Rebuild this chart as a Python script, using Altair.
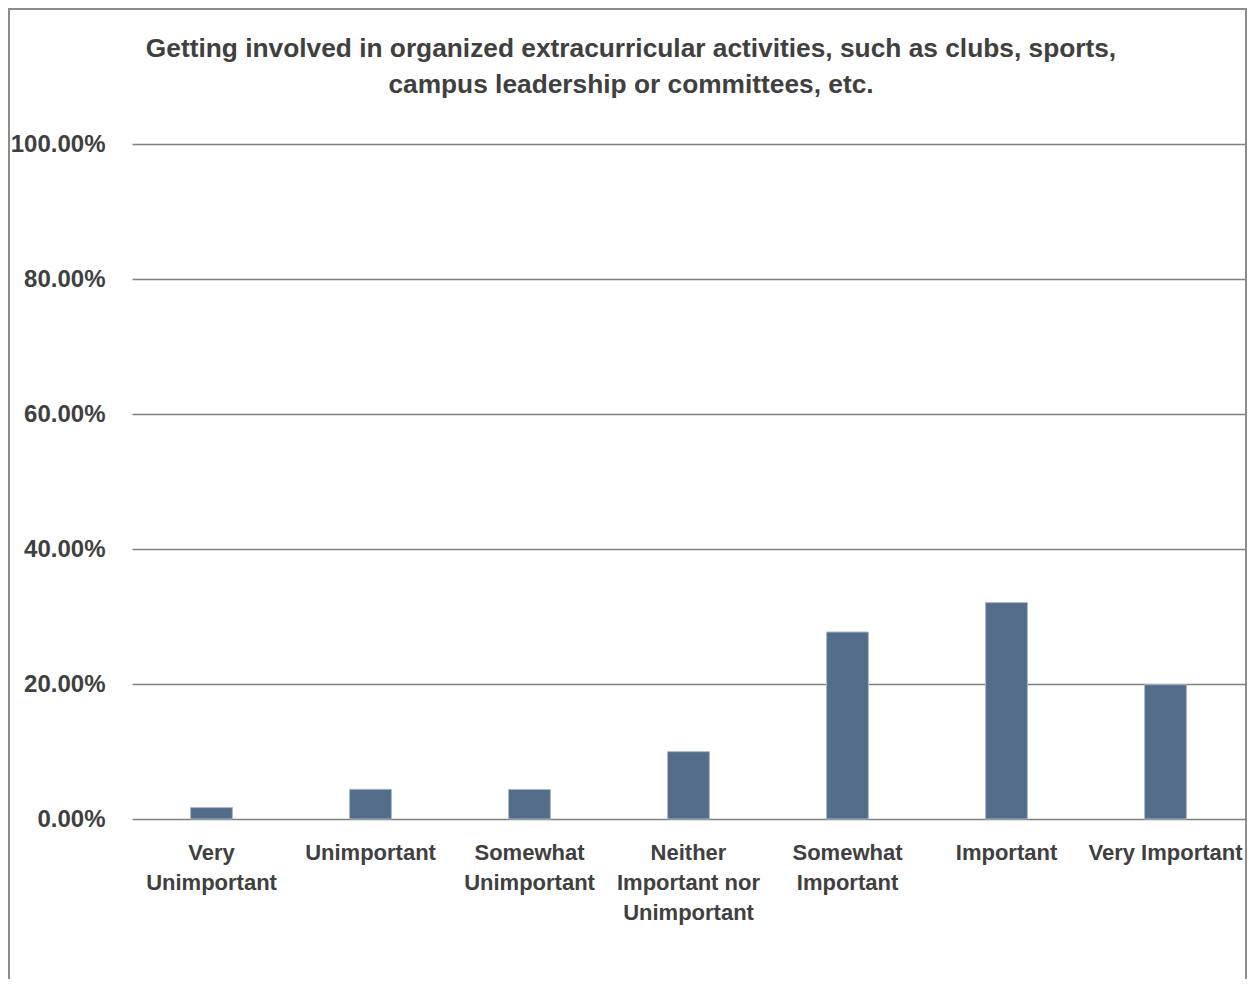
import altair as alt
import pandas as pd

categories = ["Very Unimportant", "Unimportant", "Somewhat Unimportant",
              "Neither Important nor Unimportant", "Somewhat Important",
              "Important", "Very Important"]
label_lines = [["Very", "Unimportant"], ["Unimportant"], ["Somewhat", "Unimportant"],
               ["Neither", "Important nor", "Unimportant"], ["Somewhat", "Important"],
               ["Important"], ["Very Important"]]
values = [0.0169, 0.0440, 0.0437, 0.0998, 0.2770, 0.3206, 0.1990]
y_ticks = [0, 0.2, 0.4, 0.6, 0.8, 1.0]
title_lines = ["Getting involved in organized extracurricular activities, such as clubs, sports,",
               "campus leadership or committees, etc."]

df = pd.DataFrame({"category": categories, "value": values})

label_expr = ""
for c, lines in zip(categories, label_lines):
    arr = "[" + ",".join("'" + l + "'" for l in lines) + "]"
    label_expr += f"datum.value == '{c}' ? {arr} : "
label_expr += "datum.label"

FONT = "Liberation Sans, Arial, sans-serif"
TXT = "#404040"
W, H = 1113, 675

bars = alt.Chart(df).mark_bar(color="#536c8a", stroke="#a9b8c9", strokeWidth=1).encode(
    x=alt.X("category:N", sort=categories,
            scale=alt.Scale(paddingInner=0.737, paddingOuter=0.3685),
            axis=alt.Axis(title=None, labelAngle=0, labelExpr=label_expr,
                          labelFont=FONT, labelFontSize=22, labelFontWeight="bold",
                          labelColor=TXT, labelLineHeight=30, labelPadding=23,
                          labelBaseline="top", ticks=False, domain=False, grid=False,
                          labelLimit=300)),
    y=alt.Y("value:Q", scale=alt.Scale(domain=[0, 1]),
            axis=alt.Axis(title=None, values=y_ticks, format=".2%",
                          labelFont=FONT, labelFontSize=24, labelFontWeight="bold",
                          labelColor=TXT, labelPadding=27, ticks=False, domain=False,
                          grid=True, gridColor="#808080", gridWidth=1.6)),
)

dummy = pd.DataFrame({"a": [0]})
frame = alt.Chart(dummy).mark_rect(
    fill=None, stroke="#8c8c8c", strokeWidth=2).encode(
    x=alt.value(-123), x2=alt.value(W + 1), y=alt.value(-135), y2=alt.value(H + 300))

title1 = alt.Chart(dummy).mark_text(
    font=FONT, fontSize=26.3, fontWeight="bold", color=TXT, align="center",
    baseline="alphabetic").encode(
    x=alt.value(499), y=alt.value(-87), text=alt.value(title_lines[0]))
title2 = alt.Chart(dummy).mark_text(
    font=FONT, fontSize=26.3, fontWeight="bold", color=TXT, align="center",
    baseline="alphabetic").encode(
    x=alt.value(499), y=alt.value(-51), text=alt.value(title_lines[1]))

chart = alt.layer(frame, title1, title2, bars).properties(
    width=W, height=H,
    autosize=alt.AutoSizeParams(type="none"),
    padding={"left": 124, "top": 136, "right": 2, "bottom": 160},
).configure_view(stroke=None)

chart.save("out.html", embed_options={"renderer": "svg", "actions": False})
